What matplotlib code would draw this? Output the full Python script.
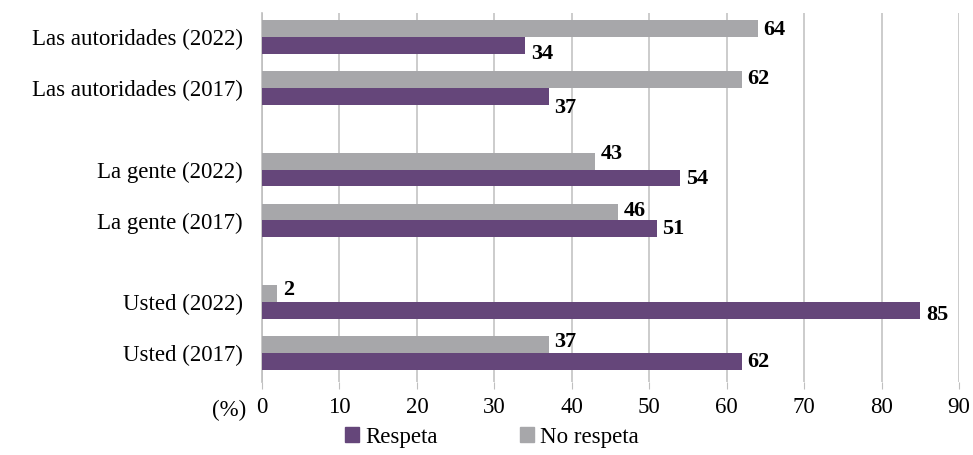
import numpy as np
import matplotlib.pyplot as plt
from matplotlib.patches import Patch

plt.rcParams['font.family'] = ['Liberation Serif', 'DejaVu Serif']

categories = ['Las autoridades (2022)', 'Las autoridades (2017)',
              'La gente (2022)', 'La gente (2017)',
              'Usted (2022)', 'Usted (2017)']
no_respeta = [64, 62, 43, 46, 2, 37]
respeta = [34, 37, 54, 51, 85, 62]

# layout: row positions (groups of two, with a gap), label nudges in points
ypos = np.array([0, 1, 2.6, 3.6, 5.2, 6.2])
dy_gray = [-1, 0, 5, 1, 2.5, 2]
dy_purple = [-6, -8, -1, 0, -3, 0]

purple = '#65467a'
gray = '#a7a7aa'
h = 0.333

fig = plt.figure(figsize=(9.73, 4.55), dpi=100)
ax = fig.add_axes([262 / 973, 1 - 382 / 455, (959 - 262) / 973, (382 - 13) / 455])

ax.barh(ypos - h / 2, no_respeta, height=h, color=gray, zorder=3)
ax.barh(ypos + h / 2, respeta, height=h, color=purple, zorder=3)

for i in range(len(categories)):
    ax.annotate(str(no_respeta[i]), (no_respeta[i], ypos[i] - h / 2),
                xytext=(4, dy_gray[i]), textcoords='offset points',
                va='center', ha='left', fontsize=16, fontweight='bold')
    ax.annotate(str(respeta[i]), (respeta[i], ypos[i] + h / 2),
                xytext=(4, dy_purple[i]), textcoords='offset points',
                va='center', ha='left', fontsize=16, fontweight='bold')

ax.set_xlim(0, 90)
ax.set_ylim(6.2 + 29 / 51, -24 / 51)
ax.set_xticks(range(0, 91, 10))
ax.set_yticks(ypos)
ax.set_yticklabels(categories)
ax.tick_params(axis='y', length=0, labelsize=16.5, pad=14)
ax.tick_params(axis='x', length=5, color='#bfbfbf', labelsize=16.5, pad=6)
ax.xaxis.grid(True, color='#c4c4c4', linewidth=1.2, zorder=0)
for s in ['top', 'right', 'bottom']:
    ax.spines[s].set_visible(False)
ax.spines['left'].set_color('#bfbfbf')
ax.spines['left'].set_linewidth(1.2)

fig.text(246 / 973, 1 - 410 / 455, '(%)', ha='right', va='center', fontsize=16.5)

handles = [Patch(color=purple, label='Respeta'), Patch(color=gray, label='No respeta')]
fig.legend(handles=handles, loc='center', bbox_to_anchor=(492 / 973, 1 - 437 / 455),
           ncol=2, frameon=False, fontsize=16.5, handlelength=0.62, handleheight=0.62,
           handletextpad=0.25, columnspacing=3.6, borderpad=0)

fig.savefig('out.png', dpi=100)
